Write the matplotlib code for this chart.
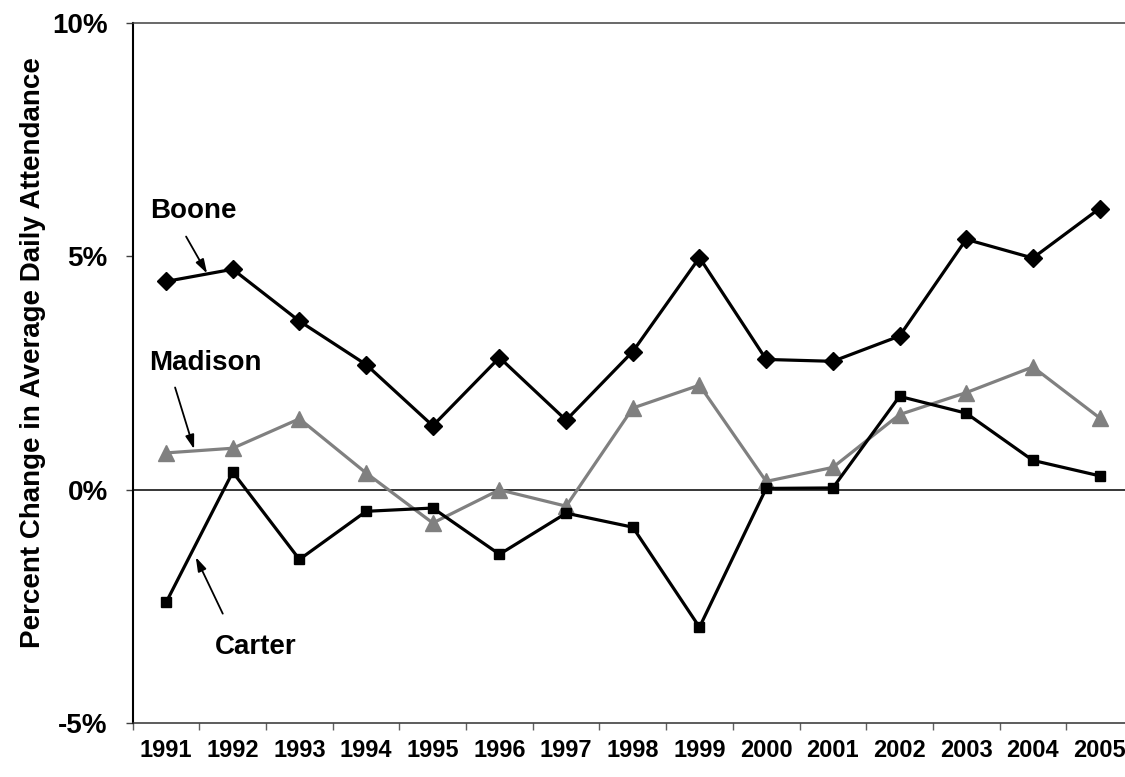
import matplotlib
matplotlib.use("Agg")
import matplotlib.pyplot as plt
import numpy as np

years = ["1991", "1992", "1993", "1994", "1995", "1996", "1997", "1998",
         "1999", "2000", "2001", "2002", "2003", "2004", "2005"]
boone = [4.46, 4.72, 3.61, 2.68, 1.37, 2.83, 1.49, 2.96, 4.97, 2.79, 2.75, 3.29, 5.36, 4.96, 6.02]
madison = [0.79, 0.89, 1.52, 0.36, -0.71, 0.0, -0.35, 1.75, 2.24, 0.18, 0.48, 1.61, 2.08, 2.63, 1.54]
carter = [-2.41, 0.38, -1.49, -0.46, -0.39, -1.38, -0.50, -0.80, -2.94, 0.03, 0.04, 2.00, 1.64, 0.63, 0.30]
y_ticks = [-5, 0, 5, 10]
y_ticklabels = ["-5%", "0%", "5%", "10%"]

plt.rcParams['font.family'] = ['Liberation Sans', 'DejaVu Sans']

fig = plt.figure(figsize=(11.25, 7.77), dpi=100)
ax = fig.add_axes([0.118, 0.0689, 0.889, 0.9021])

x = np.arange(len(years))
ax.axhline(0, color='black', lw=1.1, zorder=1)

ax.plot(x, boone, color='black', lw=2.3, marker='D', markersize=9, zorder=3)
ax.plot(x, madison, color='#808080', lw=2.3, marker='^', markersize=11, zorder=2)
ax.plot(x, carter, color='black', lw=2.3, marker='s', markersize=7.5, zorder=3)

ax.set_xlim(-0.5, len(years) - 0.5)
ax.set_ylim(-5, 10)

ax.set_yticks(y_ticks)
ax.set_yticklabels(y_ticklabels, fontsize=20, fontweight='bold')
ax.tick_params(axis='y', direction='out', length=5, width=1, pad=13, color='#404040')

ax.set_xticks(np.arange(-0.5, len(years) - 0.4, 1.0))
ax.set_xticklabels([])
ax.tick_params(axis='x', which='major', direction='out', length=5, width=1, color='#606060')
ax.set_xticks(x, minor=True)
ax.set_xticklabels(years, minor=True, fontsize=17, fontweight='bold')
ax.tick_params(axis='x', which='minor', length=0, pad=11)

ax.spines['left'].set_linewidth(1.5)
ax.spines['left'].set_color('black')
ax.spines['bottom'].set_linewidth(1.1)
ax.spines['bottom'].set_color('#303030')
ax.spines['top'].set_linewidth(1.1)
ax.spines['top'].set_color('#404040')
ax.spines['right'].set_visible(False)

fig.text(33 / 1125, 1 - 353 / 777, "Percent Change in Average Daily Attendance",
         fontsize=20, fontweight='bold', rotation=90, ha='center', va='center')

arrowprops = dict(arrowstyle='-|>,head_length=0.7,head_width=0.22', lw=1.3, color='black',
                  shrinkA=0, shrinkB=0, mutation_scale=12)
ax.text(0.404, 5.96, "Boone", fontsize=20, fontweight='bold', ha='center', va='center')
ax.annotate("", xy=(0.615, 4.63), xytext=(0.30, 5.42), arrowprops=arrowprops)
ax.text(0.584, 2.72, "Madison", fontsize=20, fontweight='bold', ha='center', va='center')
ax.annotate("", xy=(0.42, 0.87), xytext=(0.135, 2.19), arrowprops=arrowprops)
ax.text(1.35, -3.37, "Carter", fontsize=20, fontweight='bold', ha='center', va='center')
ax.annotate("", xy=(0.445, -1.44), xytext=(0.85, -2.65), arrowprops=arrowprops)

fig.savefig("out.png", dpi=100)
